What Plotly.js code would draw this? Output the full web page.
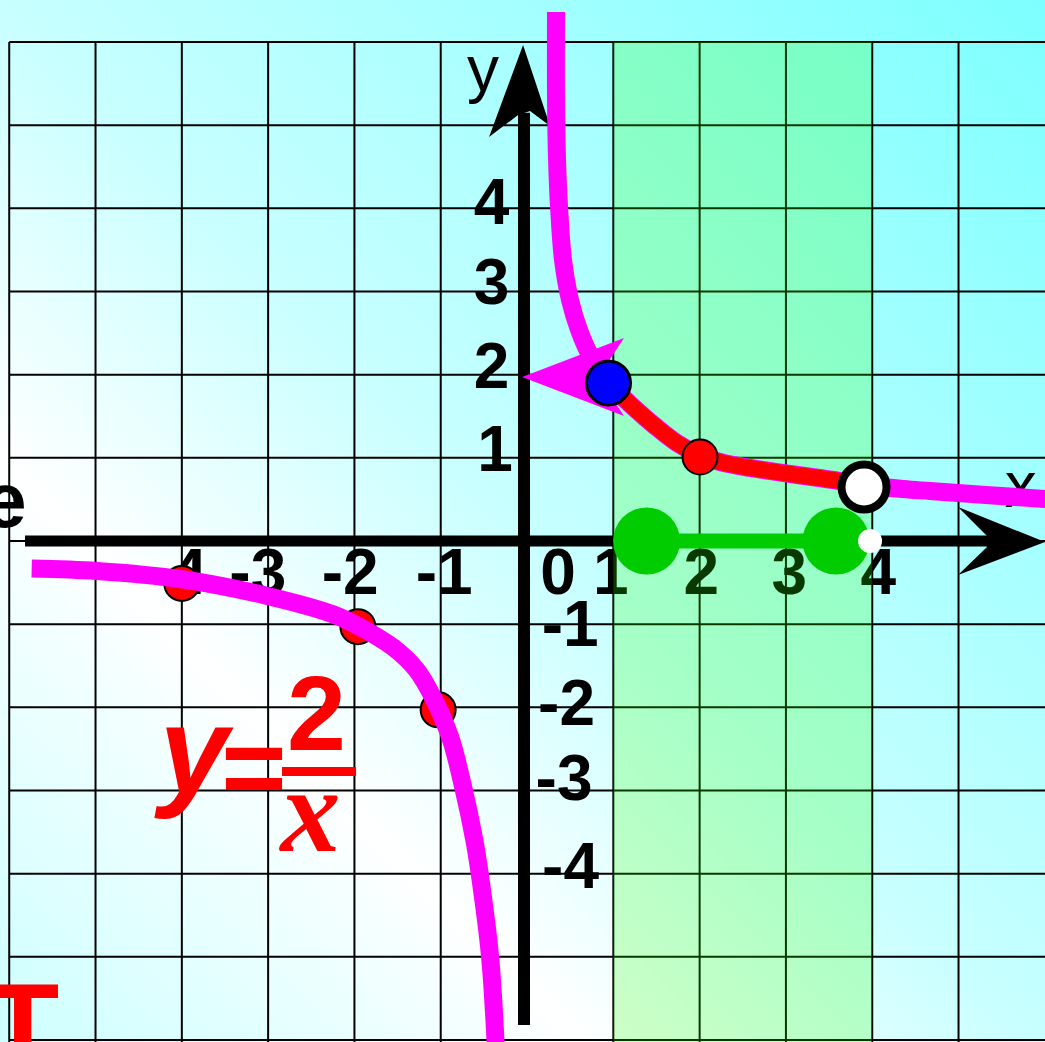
<!DOCTYPE html>
<html><head><meta charset="utf-8">
<script src="https://cdn.plot.ly/plotly-3.0.1.min.js"></script>
<style>
html,body{margin:0;padding:0;overflow:hidden;}
#chart{width:1045px;height:1042px;
background:linear-gradient(45deg, rgb(205,255,255) 0%, rgb(246,255,255) 24%, rgb(255,255,255) 28%, rgb(200,255,255) 50%, rgb(165,255,255) 74%, rgb(125,255,255) 100%);}
</style></head><body><div id="chart"></div>
<script>
// ---------- data ----------
const gridX = [-6,-5,-4,-3,-2,-1,1,2,3,4,5];
const gridY = [-6,-5,-4,-3,-2,-1,0,1,2,3,4,5,6];
const xTickText = ['-4','-3','-2','-1','0','1','2','3','4'];
const yTickText = ['4','3','2','1','-1','-2','-3','-4'];

// y = 2/x, left branch (x<0)
const leftX = [-5.74,-4.98,-4.00,-3.01,-2.25,-1.96,-1.55,-1.28,-1.09,-0.89,-0.74,-0.61,-0.55,-0.43,-0.36];
const leftY = [-0.33,-0.36,-0.46,-0.66,-0.88,-1.02,-1.28,-1.55,-1.88,-2.36,-2.96,-3.60,-3.99,-4.98,-6.12];
// right branch (x>0)
const rightX = [0.336,0.336,0.348,0.371,0.417,0.498,0.603,0.730,0.846,0.939,1.194,1.483,1.738,1.993,2.236,2.584,3.048,3.627,3.905,4.357,4.670,6.002,6.176];
const rightY = [6.36,5.302,4.581,4.016,3.379,2.898,2.537,2.236,2.056,1.900,1.647,1.383,1.178,1.034,0.950,0.878,0.806,0.721,0.673,0.625,0.601,0.505,0.493];
// highlighted piece for x in [1,4)
const redX = [0.939,1.194,1.483,1.738,1.993,2.236,2.584,3.048,3.627,3.905];
const redY = [1.900,1.647,1.383,1.178,1.034,0.950,0.878,0.806,0.721,0.673];
// marked points
const negPtsX = [-4.00,-1.96,-1.03];
const negPtsY = [-0.51,-1.03,-2.03];
const posPtX = [2.005], posPtY = [1.010];
const startPtX = [0.944], startPtY = [1.900];
const endPtX = [3.905], endPtY = [0.649];
// interval on the x-axis
const bandX = [1, 4];
const intervalX = [1.385, 3.580];
const openEndX = [3.975];

// ---------- placement / style ----------
const xRange = [-6.107, 6.002], yRange = [-6.024, 6.505];
const xLabelPos = [-4.04,-3.12,-2.05,-0.96,0.36,0.97,2.02,3.04,4.07];
const xLabelY = -0.44;
const yLabelPos = [[-0.41,4.01],[-0.41,3.04],[-0.41,2.03],[-0.37,1.04],[0.50,-1.07],[0.458,-2.02],[0.429,-2.92],[0.504,-3.98]];
const SANS = 'Liberation Sans, Arial, sans-serif';
const SERIF = 'Liberation Serif';
const MAG = '#ff00ff', RED = '#ff0000';

const traces = [];
function txt(x, y, t, font) {
  traces.push({type:'scatter', mode:'text', x:[x], y:[y], text:[t], textposition:'middle center',
    textfont:font, hoverinfo:'skip', cliponaxis:false});
}
function line(x, y, color, width, shape) {
  traces.push({type:'scatter', mode:'lines', x:x, y:y, line:{color:color, width:width, shape:shape||'linear', smoothing:1},
    hoverinfo:'skip'});
}
function poly(x, y, color) {
  traces.push({type:'scatter', mode:'lines', x:x.concat([x[0]]), y:y.concat([y[0]]), fill:'toself',
    fillcolor:color, line:{width:0, color:color}, hoverinfo:'skip'});
}
function pts(x, y, color, size, lineColor, lineWidth) {
  traces.push({type:'scatter', mode:'markers', x:x, y:y, marker:{color:color, size:size,
    line:{color:lineColor||color, width:lineWidth||0}}, hoverinfo:'skip', cliponaxis:false});
}

// grid
const gridTop = 6, gridLeft = -6;
const gx = [], gy = [];
gridX.forEach(v => { gx.push(v, v, null); gy.push(gridTop, yRange[0] - 0.2, null); });
gridY.forEach(v => { gx.push(gridLeft, xRange[1] + 0.2, null); gy.push(v, v, null); });
traces.push({type:'scatter', mode:'lines', x:gx, y:gy, line:{color:'#000', width:2}, hoverinfo:'skip', connectgaps:false});

// tick labels
const lf = {family:SANS, size:64, color:'#000', weight:'bold'};
xTickText.forEach((t, i) => txt(xLabelPos[i], xLabelY, t, lf));
yTickText.forEach((t, i) => txt(yLabelPos[i][0], yLabelPos[i][1], t, lf));
// axis names
txt(-0.51, 5.60, 'y', {family:SANS, size:64, color:'#000'});
txt(5.72, 0.60, 'x', {family:SANS, size:64, color:'#000'});
// cut-off texts at the left edge
txt(-6.05, 0.40, 'e', {family:SANS, size:78, color:'#000', weight:'bold'});
txt(-5.846, -5.98, 'T', {family:SANS, size:120, color:RED, weight:'bold'});

// band x in [1,4]
poly([bandX[0], bandX[1], bandX[1], bandX[0]], [yRange[0]-0.2, yRange[0]-0.2, gridTop, gridTop], 'rgba(40,255,0,0.22)');

// axes
const axX = -0.035;
line([-5.817, 5.33], [0, 0], '#000', 11);
poly([6.002, 4.994, 5.330, 5.330, 4.994], [-0.012, 0.409, 0.060, -0.072, -0.409], '#000');
line([axX, axX], [-5.82, 5.15], '#000', 12);
poly([-0.046, 0.267, 0.035, -0.104, -0.440], [5.964, 4.990, 5.170, 5.122, 4.858], '#000');

// formula y = 2/x
txt(-3.86, -2.66, 'y', {family:SANS, size:124, color:RED, weight:'bold', style:'italic'});
txt(-3.163, -2.85, '=', {family:SANS, size:112, color:RED, weight:'bold'});
txt(-2.439, -2.19, '2', {family:SANS, size:106, color:RED, weight:'bold'});
line([-2.839, -1.981], [-2.771, -2.771], RED, 9);
txt(-2.509, -3.37, '<b><i>x</i></b>', {family:SERIF, size:120, color:RED});

// left branch with points
pts(negPtsX, negPtsY, RED, 35, '#000', 2);
line(leftX, leftY, MAG, 18, 'spline');
// right branch
line(rightX, rightY, MAG, 18, 'spline');
poly([-0.058, 1.124, 0.823, 1.124], [1.972, 2.441, 1.972, 1.503], MAG);
line(redX, redY, RED, 16, 'spline');
pts(posPtX, posPtY, RED, 35, '#000', 2);
pts(startPtX, startPtY, '#0000ff', 44, '#000', 3);

// interval on the x axis
line(intervalX, [0, 0], '#00cc00', 15);
pts(intervalX, [0, 0], '#00cc00', 67);
pts(openEndX, [0], '#ffffff', 24);
pts(endPtX, endPtY, '#ffffff', 45, '#000', 8);

const layout = {
  width:1045, height:1042, margin:{l:0, r:0, t:0, b:0, pad:0},
  paper_bgcolor:'rgba(0,0,0,0)', plot_bgcolor:'rgba(0,0,0,0)',
  showlegend:false, hovermode:false,
  xaxis:{range:xRange, visible:false, fixedrange:true},
  yaxis:{range:yRange, visible:false, fixedrange:true}
};
Plotly.newPlot('chart', traces, layout, {displayModeBar:false, staticPlot:true});
</script></body></html>
